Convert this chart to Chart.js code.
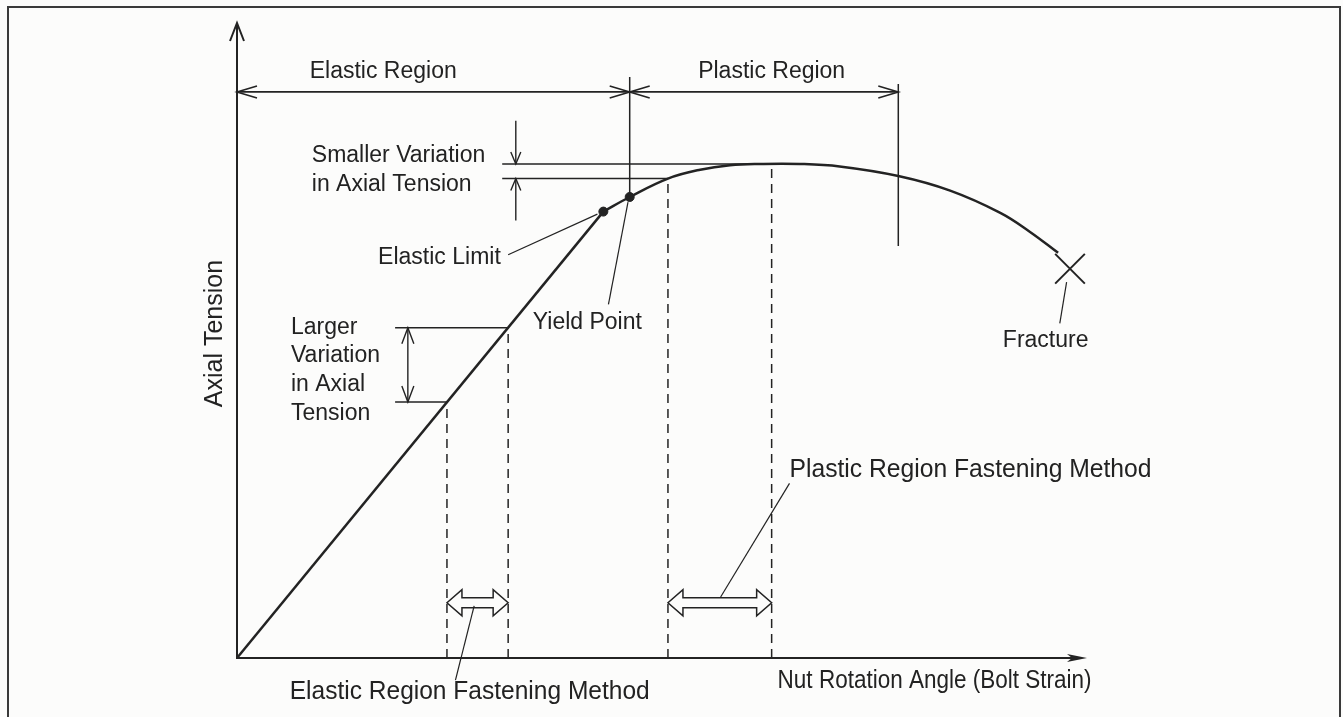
<!DOCTYPE html>
<html>
<head>
<meta charset="utf-8">
<title>Axial Tension vs Nut Rotation Angle</title>
<script src="https://cdn.jsdelivr.net/npm/chart.js@4"></script>
<style>
  html, body { margin: 0; padding: 0; background: #fcfcfb; }
  #wrap { width: 1343px; height: 717px; }
</style>
</head>
<body>
<div id="wrap"><canvas id="tensionChart"></canvas></div>
<script>
// Bolt tightening curve, both axes in relative units (0-100)
const elasticX = [0, 43.1];
const elasticY = [0, 70.3];
const curveX = [43.1, 46.2, 50.7, 54.5, 58.0, 61.5, 66.2, 70.9, 77.8, 83.9, 89.8, 93.3, 96.6];
const curveY = [70.3, 72.6, 75.5, 76.9, 77.6, 77.8, 77.8, 77.4, 75.9, 73.6, 70.1, 67.1, 63.8];
const elasticLimit = [43.1, 70.3];
const yieldPoint = [46.2, 72.6];
const fracturePoint = [98.0, 61.3];

// rotation where each region starts/ends: origin, yield, end of plastic region
const regionBounds = [0, 46.2, 77.8];
const regionNames = ['Elastic Region', 'Plastic Region'];

// tightening windows: rotation range and resulting tension range
const elasticWindowX = [24.7, 31.9];
const elasticWindowY = [40.3, 52.0];
const plasticWindowX = [50.7, 62.9];
const plasticWindowY = [75.5, 77.8];

const INK = '#232323';
const TEXT = '#222222';
const FONT = '"Liberation Sans", Arial, Helvetica, sans-serif';

const pts = (xs, ys) => xs.map((x, i) => ({ x: x, y: ys[i] }));
const vline = (x, y0, y1) => [{ x: x, y: y0 }, { x: x, y: y1 }];

function lineSet(data, width, dash) {
    return {
        data: data,
        showLine: true,
        borderColor: INK,
        borderWidth: width,
        borderDash: dash || [],
        pointRadius: 0,
        tension: 0,
        clip: false
    };
}

// open "V" arrow head with its tip at (x, y), pointing along angle a
function openHead(ctx, x, y, a, len, half) {
    const bx = x - Math.cos(a) * len, by = y - Math.sin(a) * len;
    const nx = -Math.sin(a) * half, ny = Math.cos(a) * half;
    ctx.beginPath();
    ctx.moveTo(bx + nx, by + ny);
    ctx.lineTo(x, y);
    ctx.lineTo(bx - nx, by - ny);
    ctx.stroke();
}

// outlined double-headed arrow between x0 and x1 (pixels)
function hollowArrow(ctx, x0, x1, y) {
    const head = 15, hh = 13, sh = 5;
    ctx.beginPath();
    ctx.moveTo(x0, y);
    ctx.lineTo(x0 + head, y - hh);
    ctx.lineTo(x0 + head, y - sh);
    ctx.lineTo(x1 - head, y - sh);
    ctx.lineTo(x1 - head, y - hh);
    ctx.lineTo(x1, y);
    ctx.lineTo(x1 - head, y + hh);
    ctx.lineTo(x1 - head, y + sh);
    ctx.lineTo(x0 + head, y + sh);
    ctx.lineTo(x0 + head, y + hh);
    ctx.closePath();
    ctx.fillStyle = '#fcfcfb';
    ctx.fill();
    ctx.stroke();
}

const labels = [
    { text: regionNames[0], x: 17.2, y: 92.4, align: 'center' },
    { text: regionNames[1], x: 62.9, y: 92.3, align: 'center' },
    { text: 'Smaller Variation', x: 8.8, y: 79.1 },
    { text: 'in Axial Tension', x: 8.8, y: 74.5 },
    { text: 'Elastic Limit', x: 16.6, y: 63.0 },
    { text: 'Yield Point', x: 34.8, y: 52.8 },
    { text: 'Larger', x: 6.35, y: 52.0 },
    { text: 'Variation', x: 6.35, y: 47.6 },
    { text: 'in Axial', x: 6.35, y: 43.1 },
    { text: 'Tension', x: 6.35, y: 38.5 },
    { text: 'Fracture', x: 90.1, y: 50.0 },
    { text: 'Plastic Region Fastening Method', x: 65.0, y: 29.6, size: 26, width: 362 },
    { text: 'Elastic Region Fastening Method', x: 6.2, y: -5.35, size: 26, width: 360 },
    { text: 'Nut Rotation Angle (Bolt Strain)', x: 63.6, y: -3.6, size: 26, width: 314 }
];

// leader lines from labels to the features they name
const leaders = [
    [31.9, 63.5, 42.4, 69.9],
    [43.7, 55.7, 46.0, 71.8],
    [96.8, 52.7, 97.6, 59.2],
    [65.0, 27.5, 56.9, 9.6],
    [25.7, -3.5, 27.9, 8.2]
];

const annotations = {
    id: 'annotations',
    beforeDraw(chart) {
        const ctx = chart.ctx;
        ctx.save();
        ctx.fillStyle = '#fcfcfb';
        ctx.fillRect(0, 0, chart.width, chart.height);
        // page frame
        ctx.strokeStyle = '#3a3a3a';
        ctx.lineWidth = 2;
        ctx.beginPath();
        ctx.moveTo(8, chart.height);
        ctx.lineTo(8, 7);
        ctx.lineTo(1340, 7);
        ctx.lineTo(1340, chart.height);
        ctx.stroke();
        ctx.restore();
    },
    afterDatasetsDraw(chart) {
        const ctx = chart.ctx;
        const sx = chart.scales.x, sy = chart.scales.y;
        const X = v => sx.getPixelForValue(v);
        const Y = v => sy.getPixelForValue(v);
        ctx.save();
        ctx.strokeStyle = INK;
        ctx.lineCap = 'butt';

        // axes
        ctx.lineWidth = 2;
        ctx.beginPath();
        ctx.moveTo(X(0), Y(100));
        ctx.lineTo(X(0), Y(0));
        ctx.lineTo(X(100) - 6, Y(0));
        ctx.stroke();
        openHead(ctx, X(0), Y(100), -Math.PI / 2, 18, 7);
        ctx.fillStyle = INK;
        ctx.beginPath();
        ctx.moveTo(X(100), Y(0));
        ctx.lineTo(X(100) - 20, Y(0) - 4);
        ctx.lineTo(X(100) - 15, Y(0));
        ctx.lineTo(X(100) - 20, Y(0) + 4);
        ctx.closePath();
        ctx.fill();

        // region dimension arrows
        const dimY = Y(89.15);
        ctx.lineWidth = 1.6;
        ctx.beginPath();
        ctx.moveTo(X(regionBounds[0]), dimY);
        ctx.lineTo(X(regionBounds[2]), dimY);
        ctx.stroke();
        openHead(ctx, X(regionBounds[0]), dimY, Math.PI, 20, 6);
        openHead(ctx, X(regionBounds[1]), dimY, 0, 20, 6);
        openHead(ctx, X(regionBounds[1]), dimY, Math.PI, 20, 6);
        openHead(ctx, X(regionBounds[2]), dimY, 0, 20, 6);

        // smaller variation (plastic window) arrows
        const svx = X(32.8);
        ctx.lineWidth = 1.4;
        ctx.beginPath();
        ctx.moveTo(svx, Y(84.6));
        ctx.lineTo(svx, Y(plasticWindowY[1]));
        ctx.moveTo(svx, Y(68.9));
        ctx.lineTo(svx, Y(plasticWindowY[0]));
        ctx.stroke();
        openHead(ctx, svx, Y(plasticWindowY[1]), Math.PI / 2, 12, 5);
        openHead(ctx, svx, Y(plasticWindowY[0]), -Math.PI / 2, 12, 5);

        // larger variation (elastic window) arrow
        const lvx = X(20.1);
        ctx.beginPath();
        ctx.moveTo(lvx, Y(elasticWindowY[0]));
        ctx.lineTo(lvx, Y(elasticWindowY[1]));
        ctx.stroke();
        openHead(ctx, lvx, Y(elasticWindowY[1]), -Math.PI / 2, 16, 6);
        openHead(ctx, lvx, Y(elasticWindowY[0]), Math.PI / 2, 16, 6);

        // tightening windows along the rotation axis
        ctx.lineWidth = 1.5;
        hollowArrow(ctx, X(elasticWindowX[0]), X(elasticWindowX[1]), Y(8.7));
        hollowArrow(ctx, X(plasticWindowX[0]), X(plasticWindowX[1]), Y(8.7));

        // leaders
        ctx.lineWidth = 1.2;
        leaders.forEach(l => {
            ctx.beginPath();
            ctx.moveTo(X(l[0]), Y(l[1]));
            ctx.lineTo(X(l[2]), Y(l[3]));
            ctx.stroke();
        });

        // labels
        ctx.fillStyle = TEXT;
        ctx.textBaseline = 'middle';
        labels.forEach(l => {
            ctx.font = (l.size || 23) + 'px ' + FONT;
            ctx.textAlign = l.align || 'left';
            if (l.width) ctx.fillText(l.text, X(l.x), Y(l.y), l.width);
            else ctx.fillText(l.text, X(l.x), Y(l.y));
        });

        // y axis title
        ctx.translate(X(-2.6), Y(51.1));
        ctx.rotate(-Math.PI / 2);
        ctx.textAlign = 'center';
        ctx.font = '25px ' + FONT;
        ctx.fillText('Axial Tension', 0, 0, 150);
        ctx.restore();
    }
};

const ctx = document.getElementById('tensionChart').getContext('2d');
new Chart(ctx, {
    type: 'scatter',
    data: {
        datasets: [
            // straight elastic part
            lineSet(pts(elasticX, elasticY), 2.5),
            // yielding and plastic part
            Object.assign(lineSet(pts(curveX, curveY), 2.5), { tension: 0.4 }),
            // tension levels of the two windows
            lineSet([{ x: 18.6, y: elasticWindowY[1] }, { x: elasticWindowX[1], y: elasticWindowY[1] }], 1.5),
            lineSet([{ x: 18.6, y: elasticWindowY[0] }, { x: elasticWindowX[0], y: elasticWindowY[0] }], 1.5),
            lineSet([{ x: 31.2, y: plasticWindowY[1] }, { x: plasticWindowX[1], y: plasticWindowY[1] }], 1.5),
            lineSet([{ x: 31.2, y: plasticWindowY[0] }, { x: plasticWindowX[0], y: plasticWindowY[0] }], 1.5),
            // region boundaries
            lineSet(vline(regionBounds[1], 91.5, yieldPoint[1]), 1.5),
            lineSet(vline(regionBounds[2], 90.4, 64.9), 1.5),
            // window limits
            lineSet(vline(elasticWindowX[0], 0, elasticWindowY[0]), 1.5, [9, 6]),
            lineSet(vline(elasticWindowX[1], 0, elasticWindowY[1]), 1.5, [9, 6]),
            lineSet(vline(plasticWindowX[0], 0, plasticWindowY[0]), 1.5, [9, 6]),
            lineSet(vline(plasticWindowX[1], 0, plasticWindowY[1]), 1.5, [9, 6]),
            // elastic limit and yield point
            {
                data: [elasticLimit, yieldPoint].map(p => ({ x: p[0], y: p[1] })),
                pointRadius: 4.5,
                pointBackgroundColor: INK,
                pointBorderColor: INK,
                clip: false
            },
            // fracture
            {
                data: [{ x: fracturePoint[0], y: fracturePoint[1] }],
                pointStyle: 'crossRot',
                pointRadius: 21,
                pointBorderColor: INK,
                pointBorderWidth: 2,
                clip: false
            }
        ]
    },
    options: {
        responsive: true,
        maintainAspectRatio: false,
        animation: false,
        layout: { padding: { left: 237, right: 256, top: 22, bottom: 59 } },
        scales: {
            x: { type: 'linear', min: 0, max: 100, display: false },
            y: { type: 'linear', min: 0, max: 100, display: false }
        },
        plugins: {
            legend: { display: false },
            tooltip: { enabled: false }
        }
    },
    plugins: [annotations]
});
</script>
</body>
</html>
